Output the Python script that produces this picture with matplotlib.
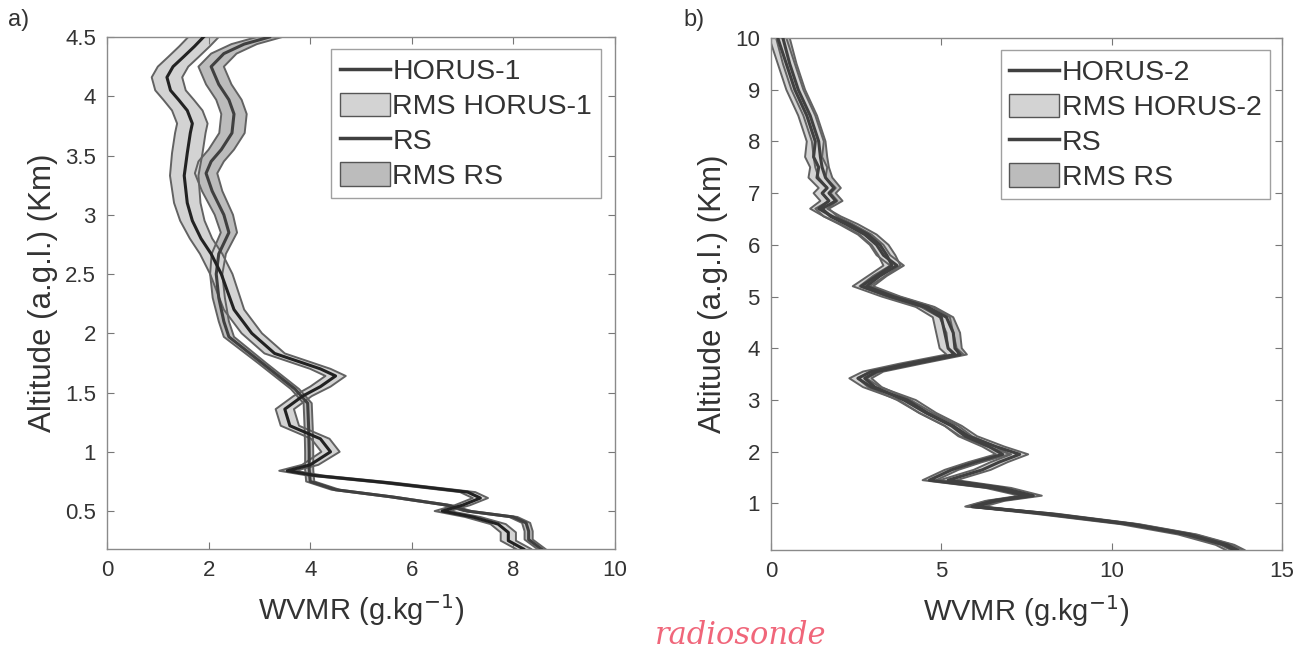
import numpy as np
import matplotlib
matplotlib.use('Agg')
import matplotlib.pyplot as plt
from matplotlib.lines import Line2D
from matplotlib.patches import Patch

plt.rcParams['font.family'] = ['Liberation Sans', 'DejaVu Sans']

# panel a) HORUS-1 vs radiosonde
h1_alt = [4.50, 4.42, 4.33, 4.25, 4.16, 4.05, 3.97, 3.88, 3.77, 3.69, 3.52, 3.33, 3.10, 2.95,
          2.80, 2.67, 2.50, 2.20, 2.00, 1.83, 1.70, 1.64, 1.55, 1.47, 1.36, 1.22, 1.11, 1.00,
          0.89, 0.84, 0.80, 0.74, 0.66, 0.61, 0.55, 0.50, 0.45, 0.39, 0.32, 0.25, 0.18]
h1_wvmr = [1.90, 1.72, 1.50, 1.30, 1.18, 1.25, 1.41, 1.58, 1.68, 1.64, 1.58, 1.52, 1.58, 1.68,
           1.85, 2.05, 2.25, 2.50, 2.85, 3.30, 4.20, 4.50, 4.20, 3.85, 3.50, 3.60, 4.20, 4.40,
           4.00, 3.55, 4.10, 5.50, 7.10, 7.35, 7.00, 6.60, 7.20, 7.70, 7.90, 7.90, 8.20]
h1_rms = [0.30, 0.30, 0.30, 0.30, 0.30, 0.30, 0.30, 0.30, 0.30, 0.30, 0.30, 0.28, 0.26, 0.24,
          0.22, 0.22, 0.22, 0.20, 0.20, 0.20, 0.20, 0.20, 0.20, 0.18, 0.18, 0.18, 0.18, 0.18,
          0.16, 0.16, 0.15, 0.15, 0.15, 0.15, 0.15, 0.15, 0.15, 0.15, 0.15, 0.15, 0.15]

rs1_alt = [4.50, 4.44, 4.36, 4.25, 4.10, 3.97, 3.85, 3.69, 3.55, 3.45, 3.35, 3.20, 3.00, 2.85,
           2.67, 2.50, 2.30, 2.10, 1.97, 1.75, 1.53, 1.41, 1.20, 1.00, 0.85, 0.75, 0.68, 0.62,
           0.55, 0.50, 0.45, 0.40, 0.33, 0.26, 0.18]
rs1_wvmr = [3.20, 2.70, 2.30, 2.05, 2.20, 2.40, 2.50, 2.46, 2.25, 2.05, 1.95, 2.07, 2.30, 2.40,
            2.20, 2.15, 2.20, 2.30, 2.40, 3.05, 3.70, 3.95, 3.97, 3.98, 3.98, 4.00, 4.50, 5.60,
            6.70, 7.10, 8.00, 8.25, 8.30, 8.30, 8.55]
rs1_rms = [0.25, 0.25, 0.25, 0.25, 0.25, 0.25, 0.25, 0.25, 0.25, 0.25, 0.22, 0.20, 0.18, 0.16,
           0.14, 0.12, 0.12, 0.10, 0.10, 0.08, 0.08, 0.08, 0.08, 0.08, 0.08, 0.08, 0.08, 0.08,
           0.08, 0.08, 0.08, 0.08, 0.08, 0.08, 0.08]

# panel b) HORUS-2 vs radiosonde
b_alt = [10.0, 9.5, 9.0, 8.5, 8.0, 7.7, 7.5, 7.3, 7.1, 7.0, 6.85, 6.7, 6.55, 6.4, 6.2, 6.0,
         5.8, 5.6, 5.4, 5.2, 5.0, 4.8, 4.6, 4.3, 4.0, 3.88, 3.7, 3.55, 3.42, 3.25, 3.0, 2.75,
         2.5, 2.3, 2.1, 1.95, 1.8, 1.65, 1.45, 1.3, 1.15, 1.05, 0.94, 0.8, 0.6, 0.4, 0.2, 0.1]
h2_wvmr = [0.20, 0.45, 0.70, 1.05, 1.30, 1.25, 1.40, 1.35, 1.65, 1.50, 1.70, 1.40, 1.80, 2.30,
           2.85, 3.20, 3.40, 3.55, 3.10, 2.65, 3.50, 4.50, 5.00, 5.10, 5.20, 5.40, 4.00, 2.95,
           2.55, 2.95, 4.00, 4.60, 5.35, 5.80, 6.60, 7.30, 6.70, 6.20, 5.20, 6.80, 7.70, 6.60,
           6.00, 8.00, 10.50, 12.20, 13.30, 13.60]
rs2_wvmr = [0.35, 0.55, 0.80, 1.15, 1.40, 1.45, 1.50, 1.60, 1.85, 1.70, 1.90, 1.50, 1.75, 2.20,
            2.75, 3.10, 3.30, 3.70, 3.20, 2.80, 3.60, 4.60, 5.15, 5.35, 5.40, 5.55, 4.20, 3.10,
            2.75, 3.05, 3.90, 4.55, 5.30, 5.70, 6.40, 6.80, 6.00, 5.30, 4.65, 6.50, 7.50, 6.50,
            5.90, 8.20, 10.60, 12.30, 13.40, 13.70]
h2_rms = 0.25
rs2_rms = 0.2

HORUS_FILL = '#d3d3d3'
RS_FILL = '#bcbcbc'
EDGE = '#626262'
LINE = '#404040'
TEXT = '#333333'


def draw_profile(ax, alt, wvmr, rms, fill, center_color=LINE):
    alt = np.asarray(alt)
    wvmr = np.asarray(wvmr)
    rms = np.asarray(rms)
    ax.fill_betweenx(alt, wvmr - rms, wvmr + rms, facecolor=fill, edgecolor='none', zorder=1)
    ax.plot(wvmr - rms, alt, color=EDGE, lw=1.4, zorder=2)
    ax.plot(wvmr + rms, alt, color=EDGE, lw=1.4, zorder=2)
    ax.plot(wvmr, alt, color=center_color, lw=2.2, zorder=3)


def style_axes(ax, xlim, ylim, xticks, yticks, ytick_labels):
    ax.set_xlim(*xlim)
    ax.set_ylim(*ylim)
    ax.set_xticks(xticks)
    ax.set_yticks(yticks)
    ax.set_yticklabels(ytick_labels)
    ax.tick_params(direction='in', length=5, top=True, right=True, colors='#777777',
                   labelcolor=TEXT, labelsize=16, pad=8)
    for s in ax.spines.values():
        s.set_color('#8a8a8a')
        s.set_linewidth(1.0)
    ax.set_xlabel('WVMR (g.kg$^{-1}$)', fontsize=21, color=TEXT, labelpad=8)
    ax.set_ylabel('Altitude (a.g.l.) (Km)', fontsize=22.5, color=TEXT, labelpad=5)


def add_legend(ax, labels, anchor):
    handles = [Line2D([], [], color=LINE, lw=2.5),
               Patch(facecolor=HORUS_FILL, edgecolor='#555555'),
               Line2D([], [], color=LINE, lw=2.5),
               Patch(facecolor=RS_FILL, edgecolor='#555555')]
    leg = ax.legend(handles, labels, loc='upper right', bbox_to_anchor=anchor,
                    fontsize=20.5, frameon=True, fancybox=False, borderaxespad=0,
                    handlelength=1.75, handletextpad=0.1, labelspacing=0.25,
                    borderpad=0.3, handleheight=0.9)
    leg.get_frame().set_edgecolor('#888888')
    leg.get_frame().set_linewidth(1.0)
    for t in leg.get_texts():
        t.set_color(TEXT)


fig = plt.figure(figsize=(13.14, 6.49), dpi=100)
ax1 = fig.add_axes([107 / 1314, 100 / 649, 508 / 1314, 512 / 649])
ax2 = fig.add_axes([771 / 1314, 99 / 649, 511 / 1314, 512 / 649])

draw_profile(ax1, rs1_alt, rs1_wvmr, rs1_rms, RS_FILL)
draw_profile(ax1, h1_alt, h1_wvmr, h1_rms, HORUS_FILL, center_color='#222222')
style_axes(ax1, (0, 10), (0.18, 4.5), [0, 2, 4, 6, 8, 10],
           [0.5, 1, 1.5, 2, 2.5, 3, 3.5, 4, 4.5],
           ['0.5', '1', '1.5', '2', '2.5', '3', '3.5', '4', '4.5'])
add_legend(ax1, ['HORUS-1', 'RMS HORUS-1', 'RS', 'RMS RS'], (0.972, 0.976))

draw_profile(ax2, b_alt, rs2_wvmr, rs2_rms, RS_FILL)
draw_profile(ax2, b_alt, h2_wvmr, h2_rms, HORUS_FILL)
style_axes(ax2, (0, 15), (0.1, 10), [0, 5, 10, 15], list(range(1, 11)),
           [str(v) for v in range(1, 11)])
add_legend(ax2, ['HORUS-2', 'RMS HORUS-2', 'RS', 'RMS RS'], (0.977, 0.976))

fig.text(8 / 1314, 1 - 20 / 649, 'a)', fontsize=17, color=TEXT, va='center', ha='left')
fig.text(683 / 1314, 1 - 20 / 649, 'b)', fontsize=17, color=TEXT, va='center', ha='left')
fig.text(655 / 1314, 5 / 649, 'radiosonde', fontsize=22, color='#f0667a', style='italic',
         family='DejaVu Serif', va='baseline', ha='left')

fig.savefig('out.png', dpi=100)
